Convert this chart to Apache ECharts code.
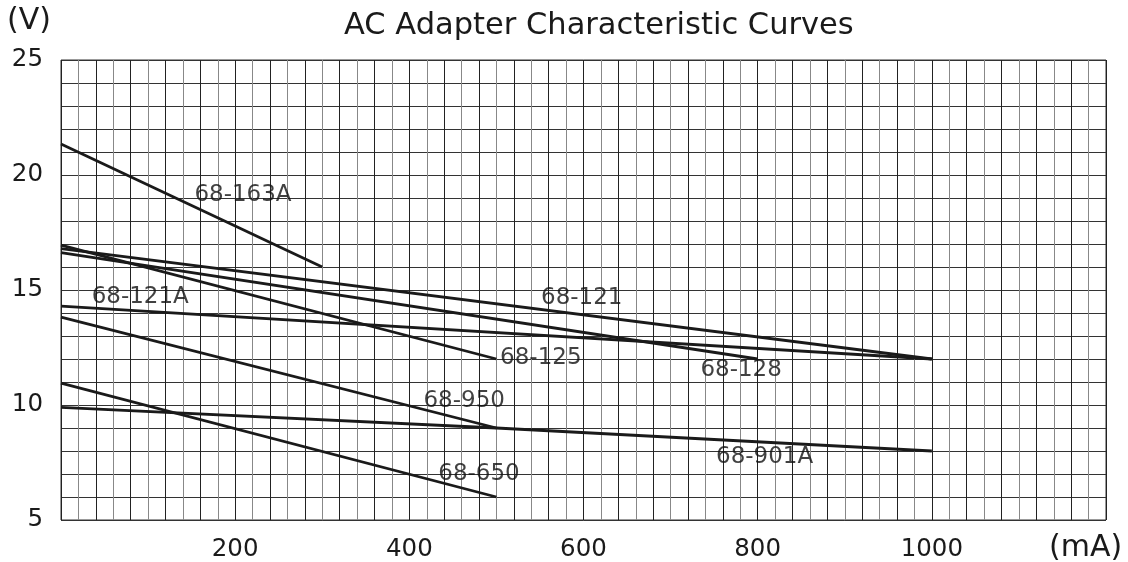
<!DOCTYPE html>
<html lang="en">

<head>
    <title>AC Adapter Characteristic Curves</title>
    <meta charset="UTF-8">
    <style type="text/css">
        html,
        body {
            width: 100%;
            height: 100%;
            margin: 0px;
            background: #fff;
        }
    </style>
    <script type="text/javascript" src="https://cdn.jsdelivr.net/npm/echarts@6.0.0/dist/echarts.min.js"></script>
</head>

<body>
    <div id="chart" style="width: 1128px; height: 562px;"></div>
</body>

<script type="text/javascript">
    // curves: [mA, V]
    var curve163A = [[0, 21.35], [300, 16.0]];
    var curve121 = [[0, 16.8], [1000, 12.0]];
    var curve128 = [[0, 16.63], [800, 12.0]];
    var curve125 = [[0, 16.95], [500, 12.0]];
    var curve121A = [[0, 14.3], [1000, 12.0]];
    var curve950 = [[0, 13.82], [500, 9.0]];
    var curve901A = [[0, 9.9], [500, 9.0], [1000, 8.0]];
    var curve650 = [[0, 10.95], [500, 6.0]];

    var curveNames = ['68-163A', '68-121', '68-128', '68-125', '68-121A', '68-950', '68-901A', '68-650'];
    var curveData = [curve163A, curve121, curve128, curve125, curve121A, curve950, curve901A, curve650];
    // where each curve's name sits, in data units
    var labelAt = [[209, 19.15], [598, 14.65], [781, 11.53], [551, 12.03], [91, 14.7], [463, 10.16], [808, 7.74], [480, 7.02]];

    var xLabels = [200, 400, 600, 800, 1000];
    var yLabels = [5, 10, 15, 20, 25];

    var font = 'DejaVu Sans';
    var ink = '#1a1a1a';

    var series = [];
    for (var i = 0; i < curveData.length; i++) {
        series.push({
            name: curveNames[i],
            type: 'line',
            data: curveData[i],
            symbol: 'none',
            silent: true,
            lineStyle: { color: ink, width: 2.8 }
        });
    }
    series.push({
        type: 'scatter',
        symbolSize: 0,
        silent: true,
        data: curveNames.map(function (n, i) { return { name: n, value: labelAt[i] }; }),
        label: {
            show: true,
            position: 'inside',
            formatter: '{b}',
            fontFamily: font,
            fontSize: 23,
            color: '#111'
        }
    });

    var chart = echarts.init(document.getElementById('chart'));
    chart.setOption({
        animation: false,
        title: {
            text: 'AC Adapter Characteristic Curves',
            left: 339,
            top: 6,
            textStyle: { fontFamily: font, fontSize: 30.5, fontWeight: 'normal', color: ink }
        },
        graphic: [
            { type: 'text', left: 7, top: 6, style: { text: '(V)', font: '30px "DejaVu Sans"', fill: ink } },
            { type: 'text', left: 1049, top: 533, style: { text: '(mA)', font: '30px "DejaVu Sans"', fill: ink } }
        ],
        grid: { left: 61, right: 22, top: 60, bottom: 38, show: true, borderColor: '#333', borderWidth: 1 },
        xAxis: {
            type: 'value',
            min: 0,
            max: 1200,
            interval: 20,
            axisLine: { show: false },
            axisTick: { show: false },
            axisLabel: {
                margin: 17,
                fontFamily: font,
                fontSize: 24.5,
                color: ink,
                formatter: function (v) { return xLabels.indexOf(v) >= 0 ? String(v) : ''; }
            },
            splitLine: { show: true, lineStyle: { color: ['#222', '#888'], width: 1 } }
        },
        yAxis: {
            type: 'value',
            min: 5,
            max: 25,
            interval: 1,
            axisLine: { show: false },
            axisTick: { show: false },
            axisLabel: {
                margin: 18,
                padding: [5, 0, 0, 0],
                fontFamily: font,
                fontSize: 24.5,
                color: ink,
                formatter: function (v) { return yLabels.indexOf(v) >= 0 ? String(v) : ''; }
            },
            splitLine: { show: true, lineStyle: { color: '#333', width: 1 } }
        },
        series: series
    });
</script>

</html>
